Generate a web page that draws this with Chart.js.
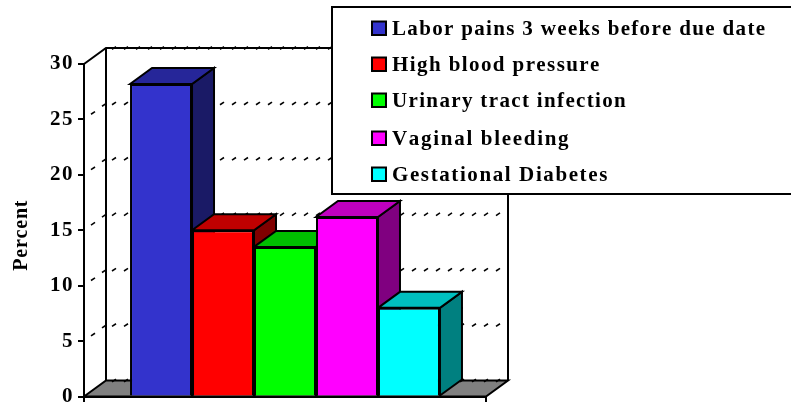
<!DOCTYPE html>
<html><head><meta charset="utf-8">
<style>html,body{margin:0;padding:0;background:#fff}canvas{display:block}</style>
<script src="https://cdn.jsdelivr.net/npm/chart.js@4"></script>
</head><body><canvas id="c" width="791" height="402"></canvas>
<script>
const categories = [''];
const seriesNames = ['Labor pains 3 weeks before due date','High blood pressure','Urinary tract infection','Vaginal bleeding','Gestational Diabetes'];
const seriesValues = [28.2, 15, 13.5, 16.2, 8];
const frontColors = ['#3333cc','#ff0000','#00ff00','#ff00ff','#00ffff'];
const topColors = ['#262699','#bf0000','#00bf00','#bf00bf','#00bfbf'];
const sideColors = ['#1a1a66','#800000','#008000','#800080','#008080'];
const legendSpacing = [1.33,1.41,1.35,1.7,1.6];
const tickStep = 5, axisMax = 30;
const DX = 22, DY = -16;
const serif = '"Liberation Serif","Times New Roman",serif';

function poly(ctx, pts, fill){
  ctx.beginPath();
  pts.forEach((p,i)=> i?ctx.lineTo(p[0],p[1]):ctx.moveTo(p[0],p[1]));
  ctx.closePath();
  if(fill){ctx.fillStyle=fill;ctx.fill();}
  ctx.lineWidth=2;ctx.strokeStyle='#000';ctx.lineJoin='miter';ctx.stroke();
}
function dashes(ctx,x0,y0,x1,y1,step,wx,wy){
  const n=Math.round(Math.hypot(x1-x0,y1-y0)/step);
  ctx.lineWidth=1.6;ctx.strokeStyle='#000';ctx.lineCap='butt';
  for(let i=0;i<=n;i++){
    const t=n?i/n:0,x=x0+(x1-x0)*t,y=y0+(y1-y0)*t;
    ctx.beginPath();ctx.moveTo(x-wx,y+wy);ctx.lineTo(x+wx,y-wy);ctx.stroke();
  }
}
const walls = {
  id:'walls',
  beforeDraw(chart){chart.ctx.letterSpacing='1.5px';chart.ctx.fontKerning='none';},
  beforeDatasetsDraw(chart){
    const {ctx,chartArea:a,scales:{y}}=chart;
    ctx.save();
    ctx.letterSpacing='0px';
    const B=y.getPixelForValue(0),T=y.getPixelForValue(axisMax);
    poly(ctx,[[a.left,B],[a.left+DX,B+DY],[a.right+DX,B+DY],[a.right,B]],'#808080');
    ctx.beginPath();
    ctx.moveTo(a.left,T);ctx.lineTo(a.left+DX,T+DY);ctx.lineTo(a.right+DX,T+DY);ctx.lineTo(a.right+DX,B+DY);
    ctx.moveTo(a.left+DX,T+DY);ctx.lineTo(a.left+DX,B+DY);
    ctx.lineWidth=2;ctx.strokeStyle='#000';ctx.stroke();
    y.ticks.forEach(t=>{
      const p=y.getPixelForValue(t.value);
      if(t.value>0 && t.value<axisMax) dashes(ctx,a.left+9,p-6.5,a.left+20,p-14.5,13,2,1.3);
      dashes(ctx,a.left+DX+8,p+DY,a.right+DX-10,p+DY,12,2,1.3);
    });
    // side and top faces, left to right; the library paints the front faces afterwards
    chart.getSortedVisibleDatasetMetas().forEach(meta=>{
      const b=meta.data[0],i=meta.index;
      const l=b.x-b.width/2,r=b.x+b.width/2,tp=b.y,base=b.base;
      poly(ctx,[[r,base],[r+DX,base+DY],[r+DX,tp+DY],[r,tp]],sideColors[i]);
      poly(ctx,[[l,tp],[l+DX,tp+DY],[r+DX,tp+DY],[r,tp]],topColors[i]);
    });
    ctx.restore();
  },
  afterDraw(chart){
    const {ctx,scales:{y}}=chart;
    ctx.save();
    ctx.translate(21.5,(y.top+y.bottom)/2+5);
    ctx.rotate(-Math.PI/2);
    ctx.textAlign='center';ctx.textBaseline='middle';
    ctx.fillStyle='#000';ctx.font='bold 20px '+serif;ctx.letterSpacing='0.8px';
    ctx.fillText('Percent',0,0);
    ctx.restore();
    ctx.save();
    ctx.fillStyle='#fff';ctx.strokeStyle='#000';ctx.lineWidth=2;
    ctx.fillRect(332,7,470,187);ctx.strokeRect(332,7,470,187);
    ctx.textBaseline='alphabetic';ctx.textAlign='left';
    ctx.font='bold 21px '+serif;
    const rows=[35,71,107,145,181];
    seriesNames.forEach((n,i)=>{
      ctx.fillStyle=frontColors[i];ctx.fillRect(372,rows[i]-13.5,14,13.5);
      ctx.strokeStyle='#000';ctx.lineWidth=2;ctx.strokeRect(372,rows[i]-13.5,14,13.5);
      ctx.letterSpacing=legendSpacing[i]+'px';
      ctx.fillStyle='#000';ctx.fillText(n,392,rows[i]);
    });
    ctx.restore();
  }
};
new Chart(document.getElementById('c'),{
  type:'bar',
  data:{labels:categories,datasets:seriesNames.map((n,i)=>({
    label:n,data:[seriesValues[i]],backgroundColor:frontColors[i],borderColor:'#000',borderWidth:2,clip:false
  }))},
  options:{
    responsive:false,animation:false,
    layout:{autoPadding:false,padding:{top:64,right:305,bottom:0,left:0}},
    plugins:{legend:{display:false},tooltip:{enabled:false},title:{display:false}},
    scales:{
      x:{
        afterFit(s){s.height=5.5;s.paddingLeft=0;s.paddingRight=0;},
        ticks:{display:false},
        grid:{drawOnChartArea:false,drawTicks:true,tickLength:6,color:'#000',lineWidth:2,offset:true},
        border:{color:'#000',width:2}
      },
      y:{
        min:0,max:axisMax,
        afterFit(s){s.width=84;s.paddingTop=0;s.paddingBottom=0;},
        ticks:{stepSize:tickStep,color:'#000',padding:4,font:{family:serif,weight:'bold',size:21}},
        grid:{drawOnChartArea:false,drawTicks:true,tickLength:6,color:'#000',lineWidth:2},
        border:{color:'#000',width:2},
        title:{display:false}
      }
    },
    datasets:{bar:{categoryPercentage:.771,barPercentage:1}}
  },
  plugins:[walls]
});
</script></body></html>
